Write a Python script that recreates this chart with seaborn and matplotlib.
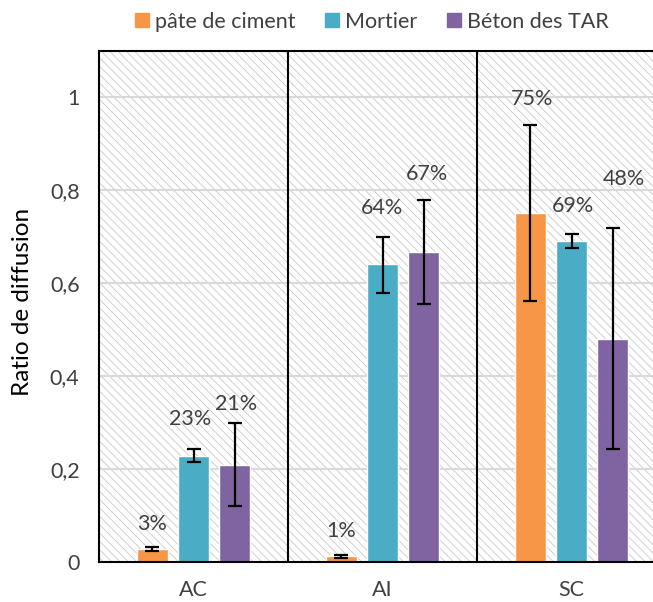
import matplotlib
matplotlib.use("Agg")
import matplotlib.pyplot as plt
from matplotlib.patches import Rectangle
from matplotlib.lines import Line2D
from matplotlib.container import BarContainer
import seaborn as sns
import pandas as pd
import numpy as np

categories = ["AC", "AI", "SC"]
series = ["pâte de ciment", "Mortier", "Béton des TAR"]
colors = ["#F79646", "#4BACC6", "#8064A2"]

pate = [0.028, 0.012, 0.752]
mortier = [0.228, 0.642, 0.690]
beton = [0.209, 0.668, 0.480]

pate_lo = [0.024, 0.008, 0.562]
pate_hi = [0.032, 0.016, 0.940]
mortier_lo = [0.216, 0.580, 0.677]
mortier_hi = [0.244, 0.700, 0.705]
beton_lo = [0.120, 0.556, 0.244]
beton_hi = [0.300, 0.780, 0.720]

labels_pate = ["3%", "1%", "75%"]
labels_mortier = ["23%", "64%", "69%"]
labels_beton = ["21%", "67%", "48%"]

yticks = [0, 0.2, 0.4, 0.6, 0.8, 1.0]
ytick_labels = ["0", "0,2", "0,4", "0,6", "0,8", "1"]

# label placement (layout, data units)
label_y = [[0.082, 0.067, 0.996], [0.308, 0.763, 0.767], [0.340, 0.836, 0.825]]
label_dx = [[0, 0, 0.01], [-0.02, 0, 0.01], [0.01, 0.02, 0.06]]

sns.set_theme(style="white")
plt.rcParams["font.family"] = ["Lato", "DejaVu Sans"]
plt.rcParams["hatch.linewidth"] = 0.6

df = pd.DataFrame({
    "cat": categories * 3,
    "serie": [series[0]] * 3 + [series[1]] * 3 + [series[2]] * 3,
    "val": pate + mortier + beton,
})

fig = plt.figure(figsize=(6.53, 6.02), dpi=100)
W, H = 653, 602
ax = fig.add_axes([99 / W, 40 / H, 567 / W, 511 / H])

bg = Rectangle((0, 0), 1, 1, transform=ax.transAxes, facecolor="white",
               edgecolor="#c8c8c8", linewidth=0, hatch="\\\\\\\\", zorder=0)
ax.add_patch(bg)

sns.barplot(data=df, x="cat", y="val", hue="serie", order=categories,
            hue_order=series, palette=colors, width=0.651, gap=0.267,
            errorbar=None, ax=ax, zorder=2, saturation=1, legend=False)

for y in yticks[1:]:
    ax.axhline(y, color="#d9d9d9", lw=1.5, zorder=1)

bar_conts = [c for c in ax.containers if isinstance(c, BarContainer)]
vals = [pate, mortier, beton]
los = [pate_lo, mortier_lo, beton_lo]
his = [pate_hi, mortier_hi, beton_hi]
labs = [labels_pate, labels_mortier, labels_beton]
txt = "#404040"
fs = 15.5
for i, cont in enumerate(bar_conts):
    xs = [b.get_x() + b.get_width() / 2 for b in cont.patches]
    v = np.array(vals[i])
    lo = v - np.array(los[i])
    hi = np.array(his[i]) - v
    ax.errorbar(xs, v, yerr=[lo, hi], fmt="none", ecolor="black",
                elinewidth=1.6, capsize=5, capthick=1.6, zorder=4)
    for j, x in enumerate(xs):
        ax.text(x + label_dx[i][j], label_y[i][j], labs[i][j], ha="center",
                va="center", fontsize=fs, color=txt, zorder=5)

for xd in [0.5, 1.5]:
    ax.axvline(xd, color="black", lw=1.5, zorder=3)

ax.set_xlim(-0.5, 2.5)
ax.set_ylim(0, 1.1)
ax.set_yticks(yticks)
ax.set_yticklabels(ytick_labels, fontsize=fs, color=txt)
ax.tick_params(axis="x", labelsize=fs, colors=txt, pad=13, length=0)
ax.tick_params(axis="y", pad=14, length=0)
ax.set_xlabel("")
ax.set_ylabel("Ratio de diffusion", fontsize=17.5, color="black")
ax.yaxis.set_label_coords(-(99 - 23) / 567, 0.5 + (562 - 302 - 255.5) / 511)
ax.yaxis.label.set_va("center")
ax.grid(False)
for s in ax.spines.values():
    s.set_color("black")
    s.set_linewidth(1.5)
    s.set_zorder(6)

handles = [Line2D([0], [0], marker="s", linestyle="none", markersize=9.5,
                  markerfacecolor=c, markeredgecolor=c) for c in colors]
fig.legend(handles, series, loc="center", bbox_to_anchor=(371 / W, 1 - 22 / H),
           ncol=3, frameon=False, fontsize=fs, handletextpad=0.2,
           columnspacing=1.3, handlelength=0.8, labelcolor=txt)

fig.savefig("out.png", dpi=100)
